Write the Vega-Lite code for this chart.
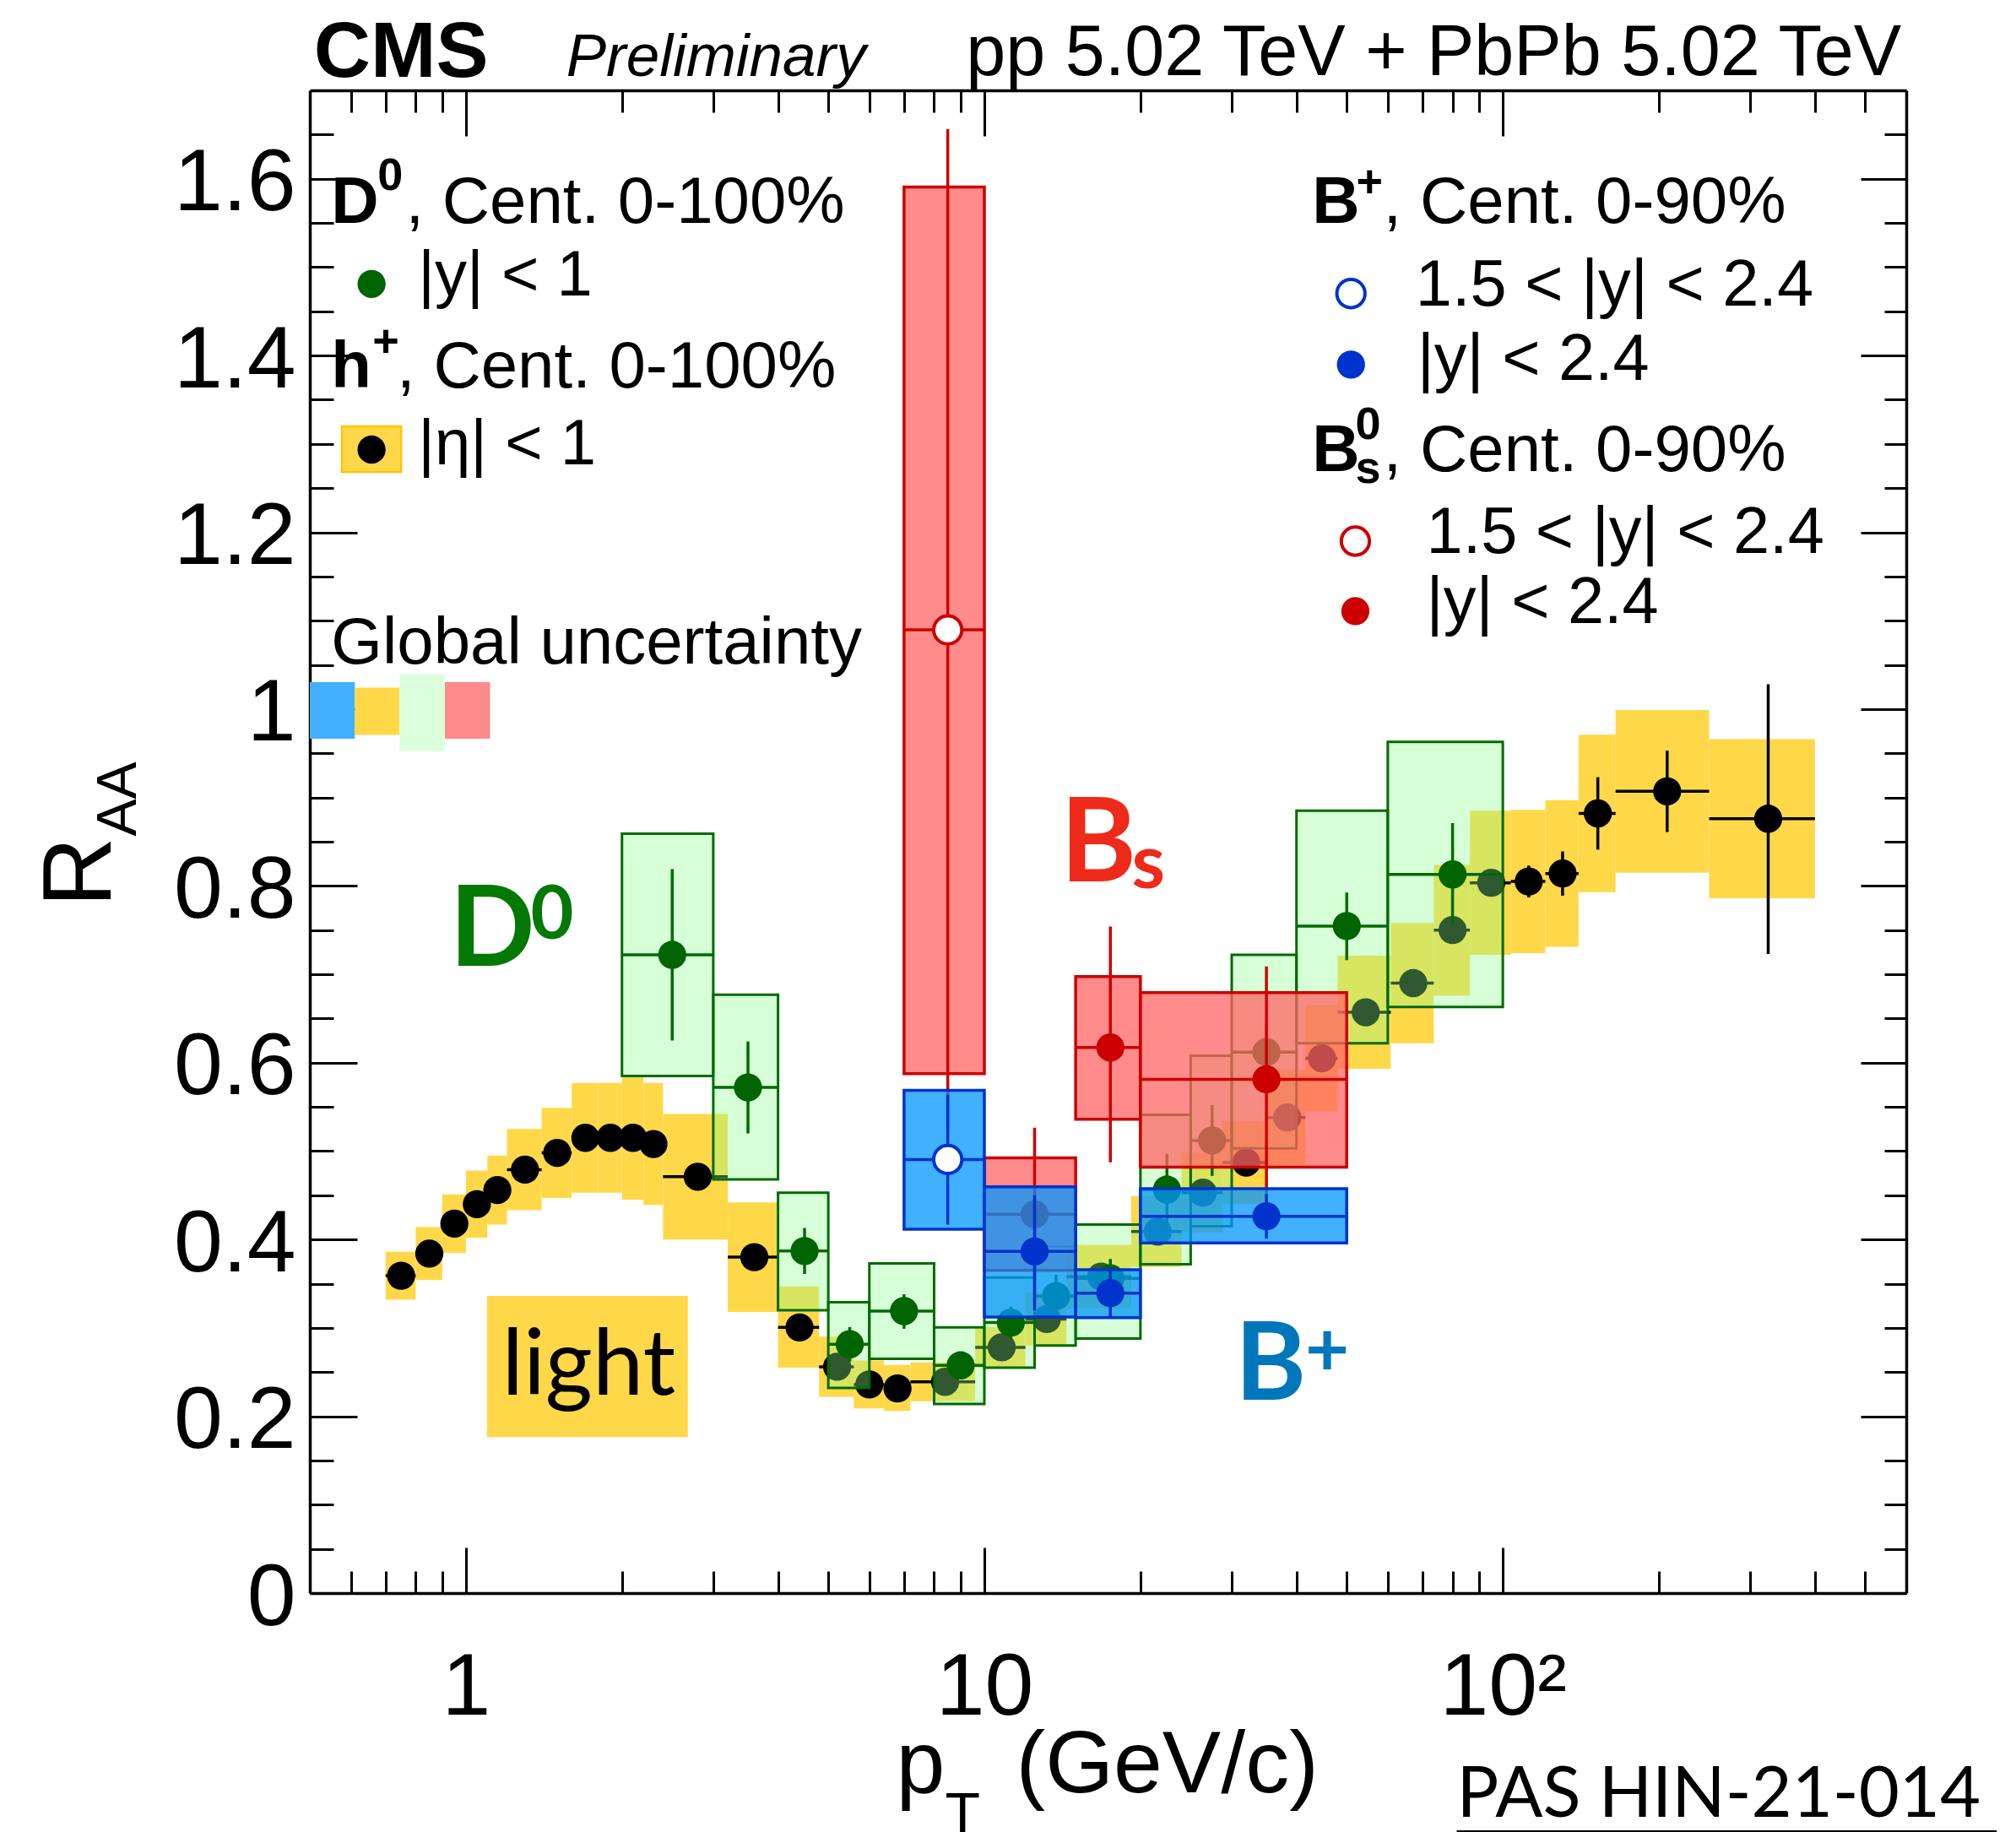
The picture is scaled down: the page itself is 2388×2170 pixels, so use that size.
{
  "$schema": "https://vega.github.io/schema/vega-lite/v6.json",
  "width": 1891,
  "height": 1780,
  "autosize": {"type": "none"},
  "padding": {"left": 367, "top": 107, "right": 130, "bottom": 283},
  "background": "white",
  "config": {"view": {"stroke": null}, "text": {"font": "Liberation Sans"}},
  "datasets": {
    "globalUnc": [
      {"species": "B+", "ptLo": 0.5, "ptHi": 0.6106, "systLo": 0.9666, "systHi": 1.0305},
      {"species": "h+", "ptLo": 0.6106, "ptHi": 0.745, "systLo": 0.9709, "systHi": 1.0244},
      {"species": "D0", "ptLo": 0.745, "ptHi": 0.911, "systLo": 0.9525, "systHi": 1.0396},
      {"species": "Bs", "ptLo": 0.911, "ptHi": 1.113, "systLo": 0.9666, "systHi": 1.0305}
    ],
    "hadron": [
      {"pt": 0.75, "ptLo": 0.7, "ptHi": 0.8, "raa": 0.359, "statLo": 0.356, "statHi": 0.362, "systLo": 0.332, "systHi": 0.386},
      {"pt": 0.85, "ptLo": 0.8, "ptHi": 0.9, "raa": 0.384, "statLo": 0.381, "statHi": 0.387, "systLo": 0.354, "systHi": 0.414},
      {"pt": 0.95, "ptLo": 0.9, "ptHi": 1.0, "raa": 0.418, "statLo": 0.415, "statHi": 0.421, "systLo": 0.385, "systHi": 0.451},
      {"pt": 1.05, "ptLo": 1.0, "ptHi": 1.1, "raa": 0.44, "statLo": 0.437, "statHi": 0.443, "systLo": 0.402, "systHi": 0.478},
      {"pt": 1.15, "ptLo": 1.1, "ptHi": 1.2, "raa": 0.456, "statLo": 0.453, "statHi": 0.459, "systLo": 0.417, "systHi": 0.495},
      {"pt": 1.3, "ptLo": 1.2, "ptHi": 1.4, "raa": 0.479, "statLo": 0.476, "statHi": 0.482, "systLo": 0.433, "systHi": 0.525},
      {"pt": 1.5, "ptLo": 1.4, "ptHi": 1.6, "raa": 0.498, "statLo": 0.495, "statHi": 0.501, "systLo": 0.447, "systHi": 0.549},
      {"pt": 1.7, "ptLo": 1.6, "ptHi": 1.8, "raa": 0.515, "statLo": 0.512, "statHi": 0.518, "systLo": 0.453, "systHi": 0.577},
      {"pt": 1.9, "ptLo": 1.8, "ptHi": 2.0, "raa": 0.515, "statLo": 0.512, "statHi": 0.518, "systLo": 0.453, "systHi": 0.577},
      {"pt": 2.1, "ptLo": 2.0, "ptHi": 2.2, "raa": 0.515, "statLo": 0.512, "statHi": 0.518, "systLo": 0.445, "systHi": 0.585},
      {"pt": 2.3, "ptLo": 2.2, "ptHi": 2.4, "raa": 0.508, "statLo": 0.505, "statHi": 0.511, "systLo": 0.439, "systHi": 0.577},
      {"pt": 2.8, "ptLo": 2.4, "ptHi": 3.2, "raa": 0.471, "statLo": 0.468, "statHi": 0.474, "systLo": 0.4, "systHi": 0.542},
      {"pt": 3.6, "ptLo": 3.2, "ptHi": 4.0, "raa": 0.38, "statLo": 0.377, "statHi": 0.383, "systLo": 0.318, "systHi": 0.442},
      {"pt": 4.4, "ptLo": 4.0, "ptHi": 4.8, "raa": 0.3005, "statLo": 0.297, "statHi": 0.304, "systLo": 0.255, "systHi": 0.347},
      {"pt": 5.2, "ptLo": 4.8, "ptHi": 5.6, "raa": 0.256, "statLo": 0.253, "statHi": 0.259, "systLo": 0.222, "systHi": 0.29},
      {"pt": 6.0, "ptLo": 5.6, "ptHi": 6.4, "raa": 0.236, "statLo": 0.233, "statHi": 0.239, "systLo": 0.209, "systHi": 0.263},
      {"pt": 6.8, "ptLo": 6.4, "ptHi": 7.2, "raa": 0.2315, "statLo": 0.228, "statHi": 0.235, "systLo": 0.206, "systHi": 0.258},
      {"pt": 8.4, "ptLo": 7.2, "ptHi": 9.6, "raa": 0.239, "statLo": 0.236, "statHi": 0.242, "systLo": 0.217, "systHi": 0.261},
      {"pt": 10.8, "ptLo": 9.6, "ptHi": 12, "raa": 0.278, "statLo": 0.275, "statHi": 0.281, "systLo": 0.255, "systHi": 0.301},
      {"pt": 13.2, "ptLo": 12, "ptHi": 14.4, "raa": 0.31, "statLo": 0.306, "statHi": 0.314, "systLo": 0.28, "systHi": 0.34},
      {"pt": 16.8, "ptLo": 14.4, "ptHi": 19.2, "raa": 0.358, "statLo": 0.354, "statHi": 0.362, "systLo": 0.322, "systHi": 0.394},
      {"pt": 21.6, "ptLo": 19.2, "ptHi": 24, "raa": 0.409, "statLo": 0.404, "statHi": 0.414, "systLo": 0.369, "systHi": 0.449},
      {"pt": 26.4, "ptLo": 24, "ptHi": 28.8, "raa": 0.453, "statLo": 0.448, "statHi": 0.458, "systLo": 0.408, "systHi": 0.498},
      {"pt": 32, "ptLo": 28.8, "ptHi": 35.2, "raa": 0.487, "statLo": 0.481, "statHi": 0.493, "systLo": 0.44, "systHi": 0.534},
      {"pt": 38.4, "ptLo": 35.2, "ptHi": 41.6, "raa": 0.538, "statLo": 0.531, "statHi": 0.545, "systLo": 0.484, "systHi": 0.592},
      {"pt": 44.8, "ptLo": 41.6, "ptHi": 48, "raa": 0.605, "statLo": 0.597, "statHi": 0.613, "systLo": 0.545, "systHi": 0.665},
      {"pt": 54.4, "ptLo": 48, "ptHi": 60.8, "raa": 0.657, "statLo": 0.649, "statHi": 0.665, "systLo": 0.593, "systHi": 0.721},
      {"pt": 67.2, "ptLo": 60.8, "ptHi": 73.6, "raa": 0.69, "statLo": 0.68, "statHi": 0.7, "systLo": 0.622, "systHi": 0.758},
      {"pt": 80, "ptLo": 73.6, "ptHi": 86.4, "raa": 0.75, "statLo": 0.738, "statHi": 0.762, "systLo": 0.676, "systHi": 0.824},
      {"pt": 95, "ptLo": 86.4, "ptHi": 103.6, "raa": 0.8035, "statLo": 0.791, "statHi": 0.816, "systLo": 0.722, "systHi": 0.885},
      {"pt": 112.2, "ptLo": 103.6, "ptHi": 120.8, "raa": 0.805, "statLo": 0.787, "statHi": 0.823, "systLo": 0.724, "systHi": 0.886},
      {"pt": 130.4, "ptLo": 120.8, "ptHi": 140, "raa": 0.814, "statLo": 0.789, "statHi": 0.839, "systLo": 0.731, "systHi": 0.897},
      {"pt": 152.5, "ptLo": 140, "ptHi": 165, "raa": 0.882, "statLo": 0.841, "statHi": 0.923, "systLo": 0.793, "systHi": 0.971},
      {"pt": 207.5, "ptLo": 165, "ptHi": 250, "raa": 0.907, "statLo": 0.861, "statHi": 0.953, "systLo": 0.815, "systHi": 0.999},
      {"pt": 325, "ptLo": 250, "ptHi": 400, "raa": 0.876, "statLo": 0.723, "statHi": 1.028, "systLo": 0.786, "systHi": 0.966}
    ],
    "dmeson": [
      {"pt": 2.5, "ptLo": 2, "ptHi": 3, "raa": 0.722, "statLo": 0.625, "statHi": 0.819, "systLo": 0.585, "systHi": 0.859},
      {"pt": 3.5, "ptLo": 3, "ptHi": 4, "raa": 0.572, "statLo": 0.52, "statHi": 0.624, "systLo": 0.468, "systHi": 0.677},
      {"pt": 4.5, "ptLo": 4, "ptHi": 5, "raa": 0.387, "statLo": 0.361, "statHi": 0.413, "systLo": 0.32, "systHi": 0.453},
      {"pt": 5.5, "ptLo": 5, "ptHi": 6, "raa": 0.2815, "statLo": 0.262, "statHi": 0.301, "systLo": 0.232, "systHi": 0.329},
      {"pt": 7, "ptLo": 6, "ptHi": 8, "raa": 0.319, "statLo": 0.299, "statHi": 0.338, "systLo": 0.265, "systHi": 0.373},
      {"pt": 9, "ptLo": 8, "ptHi": 10, "raa": 0.2576, "statLo": 0.245, "statHi": 0.27, "systLo": 0.214, "systHi": 0.3005},
      {"pt": 11.25, "ptLo": 10, "ptHi": 12.5, "raa": 0.306, "statLo": 0.288, "statHi": 0.324, "systLo": 0.255, "systHi": 0.357},
      {"pt": 13.75, "ptLo": 12.5, "ptHi": 15, "raa": 0.336, "statLo": 0.312, "statHi": 0.36, "systLo": 0.28, "systHi": 0.392},
      {"pt": 17.5, "ptLo": 15, "ptHi": 20, "raa": 0.356, "statLo": 0.334, "statHi": 0.378, "systLo": 0.288, "systHi": 0.417},
      {"pt": 22.5, "ptLo": 20, "ptHi": 25, "raa": 0.4565, "statLo": 0.416, "statHi": 0.497, "systLo": 0.372, "systHi": 0.541},
      {"pt": 27.5, "ptLo": 25, "ptHi": 30, "raa": 0.512, "statLo": 0.472, "statHi": 0.552, "systLo": 0.415, "systHi": 0.608},
      {"pt": 35, "ptLo": 30, "ptHi": 40, "raa": 0.612, "statLo": 0.58, "statHi": 0.645, "systLo": 0.503, "systHi": 0.722},
      {"pt": 50, "ptLo": 40, "ptHi": 60, "raa": 0.7546, "statLo": 0.716, "statHi": 0.7925, "systLo": 0.622, "systHi": 0.885},
      {"pt": 80, "ptLo": 60, "ptHi": 100, "raa": 0.813, "statLo": 0.756, "statHi": 0.871, "systLo": 0.663, "systHi": 0.963}
    ],
    "bplus": [
      {"rap": "fwd", "pt": 8.5, "ptLo": 7, "ptHi": 10, "raa": 0.4905, "statLo": 0.417, "statHi": 0.564, "systLo": 0.4116, "systHi": 0.5687},
      {"rap": "all", "pt": 12.5, "ptLo": 10, "ptHi": 15, "raa": 0.3865, "statLo": 0.32, "statHi": 0.45, "systLo": 0.3124, "systHi": 0.4597},
      {"rap": "all", "pt": 17.5, "ptLo": 15, "ptHi": 20, "raa": 0.3394, "statLo": 0.313, "statHi": 0.366, "systLo": 0.3117, "systHi": 0.3658},
      {"rap": "all", "pt": 35, "ptLo": 20, "ptHi": 50, "raa": 0.4263, "statLo": 0.401, "statHi": 0.452, "systLo": 0.396, "systHi": 0.4575}
    ],
    "bs": [
      {"rap": "fwd", "pt": 8.5, "ptLo": 7, "ptHi": 10, "raa": 1.0896, "statLo": 0.5236, "statHi": 1.656, "systLo": 0.5876, "systHi": 1.5907},
      {"rap": "all", "pt": 12.5, "ptLo": 10, "ptHi": 15, "raa": 0.4285, "statLo": 0.33, "statHi": 0.5265, "systLo": 0.365, "systHi": 0.4924},
      {"rap": "all", "pt": 17.5, "ptLo": 15, "ptHi": 20, "raa": 0.6172, "statLo": 0.4873, "statHi": 0.754, "systLo": 0.536, "systHi": 0.6974},
      {"rap": "all", "pt": 35, "ptLo": 20, "ptHi": 50, "raa": 0.5812, "statLo": 0.453, "statHi": 0.709, "systLo": 0.4819, "systHi": 0.6792}
    ]
  },
  "resolve": {
    "axis": {"x": "independent", "y": "independent"},
    "scale": {"fill": "independent", "stroke": "independent"}
  },
  "layer": [
    {
      "data": {"name": "globalUnc"},
      "mark": {"type": "rect"},
      "encoding": {
        "x": {"field": "ptLo", "type": "quantitative", "scale": {"type": "log", "domain": [0.5, 600], "nice": false},
          "axis": {"orient": "bottom", "values": [1, 10, 100], "labels": false, "ticks": true, "tickSize": -54, "tickWidth": 3, "tickColor": "black", "domain": true, "domainWidth": 3.5, "domainColor": "black", "grid": false, "title": null}},
        "x2": {"field": "ptHi"},
        "y": {"field": "systLo", "type": "quantitative", "scale": {"domain": [0, 1.7], "nice": false, "zero": false},
          "axis": {"orient": "left", "values": [0, 0.2, 0.4, 0.6, 0.8, 1, 1.2, 1.4, 1.6], "labels": false, "ticks": true, "tickSize": -56, "tickWidth": 3, "tickColor": "black", "domain": true, "domainWidth": 3.5, "domainColor": "black", "grid": false, "title": null}},
        "y2": {"field": "systHi"},
        "fill": {"field": "species", "type": "nominal", "legend": null,
          "scale": {"domain": ["B+", "h+", "D0", "Bs"], "range": ["#41B0FF", "#FFD84A", "#DAFFDA", "#FF8A8A"]}}
      }
    },
    {
      "data": {"values": [{"ptLo": 1.098, "ptHi": 2.68, "systLo": 0.1764, "systHi": 0.3362}]},
      "mark": {"type": "rect", "fill": "#FFD84A"},
      "encoding": {
        "x": {"field": "ptLo", "type": "quantitative", "scale": {"type": "log", "domain": [0.5, 600], "nice": false},
          "axis": {"orient": "bottom", "values": [0.6, 0.7, 0.8, 0.9, 2, 3, 4, 5, 6, 7, 8, 9, 20, 30, 40, 50, 60, 70, 80, 90, 200, 300, 400, 500], "labels": false, "ticks": true, "tickSize": -26, "tickWidth": 3, "tickColor": "black", "domain": false, "grid": false, "title": null}},
        "x2": {"field": "ptHi"},
        "y": {"field": "systLo", "type": "quantitative", "scale": {"domain": [0, 1.7], "nice": false, "zero": false},
          "axis": {"orient": "left", "values": [0.05, 0.1, 0.15, 0.25, 0.3, 0.35, 0.45, 0.5, 0.55, 0.65, 0.7, 0.75, 0.85, 0.9, 0.95, 1.05, 1.1, 1.15, 1.25, 1.3, 1.35, 1.45, 1.5, 1.55, 1.65], "labels": false, "ticks": true, "tickSize": -28, "tickWidth": 3, "tickColor": "black", "domain": false, "grid": false, "title": null}},
        "y2": {"field": "systHi"}
      }
    },
    {
      "data": {"name": "hadron"},
      "mark": {"type": "rect", "fill": "#FFD84A"},
      "encoding": {
        "x": {"field": "ptLo", "type": "quantitative", "scale": {"type": "log", "domain": [0.5, 600], "nice": false},
          "axis": {"orient": "top", "values": [1, 10, 100], "labels": false, "ticks": true, "tickSize": -54, "tickWidth": 3, "tickColor": "black", "domain": true, "domainWidth": 3.5, "domainColor": "black", "grid": false, "title": null}},
        "x2": {"field": "ptHi"},
        "y": {"field": "systLo", "type": "quantitative", "scale": {"domain": [0, 1.7], "nice": false, "zero": false},
          "axis": {"orient": "right", "values": [0, 0.2, 0.4, 0.6, 0.8, 1, 1.2, 1.4, 1.6], "labels": false, "ticks": true, "tickSize": -54, "tickWidth": 3, "tickColor": "black", "domain": true, "domainWidth": 3.5, "domainColor": "black", "grid": false, "title": null}},
        "y2": {"field": "systHi"}
      }
    },
    {
      "data": {"name": "hadron"},
      "mark": {"type": "rule", "color": "black", "strokeWidth": 3.5},
      "encoding": {
        "x": {"field": "pt", "type": "quantitative", "scale": {"type": "log", "domain": [0.5, 600], "nice": false},
          "axis": {"orient": "top", "values": [0.6, 0.7, 0.8, 0.9, 2, 3, 4, 5, 6, 7, 8, 9, 20, 30, 40, 50, 60, 70, 80, 90, 200, 300, 400, 500], "labels": false, "ticks": true, "tickSize": -26, "tickWidth": 3, "tickColor": "black", "domain": false, "grid": false, "title": null}},
        "y": {"field": "statLo", "type": "quantitative", "scale": {"domain": [0, 1.7], "nice": false, "zero": false},
          "axis": {"orient": "right", "values": [0.05, 0.1, 0.15, 0.25, 0.3, 0.35, 0.45, 0.5, 0.55, 0.65, 0.7, 0.75, 0.85, 0.9, 0.95, 1.05, 1.1, 1.15, 1.25, 1.3, 1.35, 1.45, 1.5, 1.55, 1.65], "labels": false, "ticks": true, "tickSize": -26, "tickWidth": 3, "tickColor": "black", "domain": false, "grid": false, "title": null}},
        "y2": {"field": "statHi"}
      }
    },
    {
      "data": {"name": "hadron"},
      "mark": {"type": "rule", "color": "black", "strokeWidth": 3.5},
      "encoding": {
        "x": {"field": "ptLo", "type": "quantitative", "scale": {"type": "log", "domain": [0.5, 600], "nice": false},
          "axis": {"orient": "bottom", "values": [1, 10, 100], "ticks": false, "domain": false, "grid": false,
            "labelExpr": "datum.value >= 100 ? '10²' : datum.value >= 10 ? '10' : '1'",
            "labelFont": "Liberation Sans", "labelFontSize": 104, "labelColor": "black", "labelPadding": 61, "labelFlush": false, "labelOverlap": false, "labelBound": false,
            "title": "p", "titleFont": "Liberation Sans", "titleFontSize": 104, "titleFontWeight": "normal", "titleColor": "black", "titleAngle": 0, "titleAlign": "left", "titleBaseline": "alphabetic", "titleX": 694, "titleY": 235}},
        "x2": {"field": "ptHi"},
        "y": {"field": "raa", "type": "quantitative", "scale": {"domain": [0, 1.7], "nice": false, "zero": false},
          "axis": {"orient": "left", "values": [0, 0.2, 0.4, 0.6, 0.8, 1, 1.2, 1.4, 1.6], "format": "~g", "ticks": false, "domain": false, "grid": false,
            "labelFont": "Liberation Sans", "labelFontSize": 104, "labelColor": "black", "labelPadding": 17, "labelAlign": "right", "labelBaseline": "middle", "labelOffset": 6, "labelFlush": false, "labelOverlap": false, "labelBound": false,
            "title": "R", "titleFont": "Liberation Sans", "titleFontSize": 115, "titleFontWeight": "normal", "titleColor": "black", "titleAngle": 270, "titleAlign": "left", "titleBaseline": "alphabetic", "titleX": -237, "titleY": 967}}
      }
    },
    {
      "data": {"name": "hadron"},
      "mark": {"type": "point", "shape": "circle", "filled": true, "color": "black", "size": 1110, "opacity": 1},
      "encoding": {
        "x": {"field": "pt", "type": "quantitative", "scale": {"type": "log", "domain": [0.5, 600], "nice": false},
          "axis": {"orient": "bottom", "ticks": false, "labels": false, "domain": false, "grid": false,
            "title": "T", "titleFont": "Liberation Sans", "titleFontSize": 68, "titleFontWeight": "normal", "titleColor": "black", "titleAngle": 0, "titleAlign": "left", "titleBaseline": "alphabetic", "titleX": 752, "titleY": 283}},
        "y": {"field": "raa", "type": "quantitative", "scale": {"domain": [0, 1.7], "nice": false, "zero": false},
          "axis": {"orient": "left", "ticks": false, "labels": false, "domain": false, "grid": false,
            "title": "AA", "titleFont": "Liberation Sans", "titleFontSize": 66, "titleFontWeight": "normal", "titleColor": "black", "titleAngle": 270, "titleAlign": "left", "titleBaseline": "alphabetic", "titleX": -207, "titleY": 883}}
      }
    },
    {
      "data": {"name": "dmeson"},
      "mark": {"type": "rect", "fill": "#8CFF8C", "fillOpacity": 0.35, "stroke": "#006B00", "strokeWidth": 3},
      "encoding": {
        "x": {"field": "ptLo", "type": "quantitative", "scale": {"type": "log", "domain": [0.5, 600], "nice": false},
          "axis": {"orient": "bottom", "ticks": false, "labels": false, "domain": false, "grid": false,
            "title": "(GeV/c)", "titleFont": "Liberation Sans", "titleFontSize": 104, "titleFontWeight": "normal", "titleColor": "black", "titleAngle": 0, "titleAlign": "left", "titleBaseline": "alphabetic", "titleX": 836, "titleY": 235}},
        "x2": {"field": "ptHi"},
        "y": {"field": "systLo", "type": "quantitative", "scale": {"domain": [0, 1.7], "nice": false, "zero": false}, "axis": null},
        "y2": {"field": "systHi"}
      }
    },
    {
      "data": {"name": "dmeson"},
      "mark": {"type": "rule", "color": "#006B00", "strokeWidth": 3.5},
      "encoding": {
        "x": {"field": "pt", "type": "quantitative", "scale": {"type": "log", "domain": [0.5, 600], "nice": false}, "axis": null},
        "y": {"field": "statLo", "type": "quantitative", "scale": {"domain": [0, 1.7], "nice": false, "zero": false}, "axis": null},
        "y2": {"field": "statHi"}
      }
    },
    {
      "data": {"name": "dmeson"},
      "mark": {"type": "rule", "color": "#006B00", "strokeWidth": 3.5},
      "encoding": {
        "x": {"field": "ptLo", "type": "quantitative", "scale": {"type": "log", "domain": [0.5, 600], "nice": false}, "axis": null},
        "x2": {"field": "ptHi"},
        "y": {"field": "raa", "type": "quantitative", "scale": {"domain": [0, 1.7], "nice": false, "zero": false}, "axis": null}
      }
    },
    {
      "data": {"name": "dmeson"},
      "mark": {"type": "point", "shape": "circle", "filled": true, "color": "#006400", "size": 1110, "opacity": 1},
      "encoding": {
        "x": {"field": "pt", "type": "quantitative", "scale": {"type": "log", "domain": [0.5, 600], "nice": false}, "axis": null},
        "y": {"field": "raa", "type": "quantitative", "scale": {"domain": [0, 1.7], "nice": false, "zero": false}, "axis": null}
      }
    },
    {
      "data": {"name": "bs"},
      "mark": {"type": "rect", "fill": "#FF6464", "fillOpacity": 0.75, "stroke": "#CC0000", "strokeWidth": 3.5},
      "encoding": {
        "x": {"field": "ptLo", "type": "quantitative", "scale": {"type": "log", "domain": [0.5, 600], "nice": false}, "axis": null},
        "x2": {"field": "ptHi"},
        "y": {"field": "systLo", "type": "quantitative", "scale": {"domain": [0, 1.7], "nice": false, "zero": false}, "axis": null},
        "y2": {"field": "systHi"}
      }
    },
    {
      "data": {"name": "bs"},
      "mark": {"type": "rule", "color": "#CC0000", "strokeWidth": 3.5},
      "encoding": {
        "x": {"field": "pt", "type": "quantitative", "scale": {"type": "log", "domain": [0.5, 600], "nice": false}, "axis": null},
        "y": {"field": "statLo", "type": "quantitative", "scale": {"domain": [0, 1.7], "nice": false, "zero": false}, "axis": null},
        "y2": {"field": "statHi"}
      }
    },
    {
      "data": {"name": "bs"},
      "mark": {"type": "rule", "color": "#CC0000", "strokeWidth": 3.5},
      "encoding": {
        "x": {"field": "ptLo", "type": "quantitative", "scale": {"type": "log", "domain": [0.5, 600], "nice": false}, "axis": null},
        "x2": {"field": "ptHi"},
        "y": {"field": "raa", "type": "quantitative", "scale": {"domain": [0, 1.7], "nice": false, "zero": false}, "axis": null}
      }
    },
    {
      "data": {"name": "bs"},
      "transform": [{"filter": "datum.rap == 'all'"}],
      "mark": {"type": "point", "shape": "circle", "filled": true, "color": "#CC0000", "size": 1110, "opacity": 1},
      "encoding": {
        "x": {"field": "pt", "type": "quantitative", "scale": {"type": "log", "domain": [0.5, 600], "nice": false}, "axis": null},
        "y": {"field": "raa", "type": "quantitative", "scale": {"domain": [0, 1.7], "nice": false, "zero": false}, "axis": null}
      }
    },
    {
      "data": {"name": "bs"},
      "transform": [{"filter": "datum.rap == 'fwd'"}],
      "mark": {"type": "point", "shape": "circle", "filled": true, "fill": "white", "stroke": "#CC0000", "strokeWidth": 4, "size": 1110, "opacity": 1},
      "encoding": {
        "x": {"field": "pt", "type": "quantitative", "scale": {"type": "log", "domain": [0.5, 600], "nice": false}, "axis": null},
        "y": {"field": "raa", "type": "quantitative", "scale": {"domain": [0, 1.7], "nice": false, "zero": false}, "axis": null}
      }
    },
    {
      "data": {"name": "bplus"},
      "mark": {"type": "rect", "fill": "#0095FF", "fillOpacity": 0.75, "stroke": "#0033CC", "strokeWidth": 3.5},
      "encoding": {
        "x": {"field": "ptLo", "type": "quantitative", "scale": {"type": "log", "domain": [0.5, 600], "nice": false}, "axis": null},
        "x2": {"field": "ptHi"},
        "y": {"field": "systLo", "type": "quantitative", "scale": {"domain": [0, 1.7], "nice": false, "zero": false}, "axis": null},
        "y2": {"field": "systHi"}
      }
    },
    {
      "data": {"name": "bplus"},
      "mark": {"type": "rule", "color": "#0033CC", "strokeWidth": 3.5},
      "encoding": {
        "x": {"field": "pt", "type": "quantitative", "scale": {"type": "log", "domain": [0.5, 600], "nice": false}, "axis": null},
        "y": {"field": "statLo", "type": "quantitative", "scale": {"domain": [0, 1.7], "nice": false, "zero": false}, "axis": null},
        "y2": {"field": "statHi"}
      }
    },
    {
      "data": {"name": "bplus"},
      "mark": {"type": "rule", "color": "#0033CC", "strokeWidth": 3.5},
      "encoding": {
        "x": {"field": "ptLo", "type": "quantitative", "scale": {"type": "log", "domain": [0.5, 600], "nice": false}, "axis": null},
        "x2": {"field": "ptHi"},
        "y": {"field": "raa", "type": "quantitative", "scale": {"domain": [0, 1.7], "nice": false, "zero": false}, "axis": null}
      }
    },
    {
      "data": {"name": "bplus"},
      "transform": [{"filter": "datum.rap == 'all'"}],
      "mark": {"type": "point", "shape": "circle", "filled": true, "color": "#0033CC", "size": 1110, "opacity": 1},
      "encoding": {
        "x": {"field": "pt", "type": "quantitative", "scale": {"type": "log", "domain": [0.5, 600], "nice": false}, "axis": null},
        "y": {"field": "raa", "type": "quantitative", "scale": {"domain": [0, 1.7], "nice": false, "zero": false}, "axis": null}
      }
    },
    {
      "data": {"name": "bplus"},
      "transform": [{"filter": "datum.rap == 'fwd'"}],
      "mark": {"type": "point", "shape": "circle", "filled": true, "fill": "white", "stroke": "#0033CC", "strokeWidth": 4, "size": 1110, "opacity": 1},
      "encoding": {
        "x": {"field": "pt", "type": "quantitative", "scale": {"type": "log", "domain": [0.5, 600], "nice": false}, "axis": null},
        "y": {"field": "raa", "type": "quantitative", "scale": {"domain": [0, 1.7], "nice": false, "zero": false}, "axis": null}
      }
    },
    {
      "mark": {"type": "rule", "color": "black", "strokeWidth": 4.5, "strokeDash": [13, 12]},
      "encoding": {
        "y": {"datum": 1, "type": "quantitative", "scale": {"domain": [0, 1.7], "nice": false, "zero": false}, "axis": null}
      }
    },
    {
      "data": {"values": [{"ptLo": 0.5767, "ptHi": 0.75, "systLo": 1.2683, "systHi": 1.3198}]},
      "mark": {"type": "rect", "fill": "#FFD84A", "stroke": "#FFC400", "strokeWidth": 2.5},
      "encoding": {
        "x": {"field": "ptLo", "type": "quantitative", "scale": {"type": "log", "domain": [0.5, 600], "nice": false}, "axis": null},
        "x2": {"field": "ptHi"},
        "y": {"field": "systLo", "type": "quantitative", "scale": {"domain": [0, 1.7], "nice": false, "zero": false}, "axis": null},
        "y2": {"field": "systHi"}
      }
    },
    {
      "data": {"values": [
        {"species": "D0", "pt": 0.6577, "raa": 1.481},
        {"species": "h+", "pt": 0.6577, "raa": 1.2936},
        {"species": "B+", "pt": 50.94, "raa": 1.3897},
        {"species": "Bs", "pt": 51.95, "raa": 1.1108}
      ]},
      "mark": {"type": "point", "shape": "circle", "filled": true, "size": 1110, "opacity": 1},
      "encoding": {
        "x": {"field": "pt", "type": "quantitative", "scale": {"type": "log", "domain": [0.5, 600], "nice": false}, "axis": null},
        "y": {"field": "raa", "type": "quantitative", "scale": {"domain": [0, 1.7], "nice": false, "zero": false}, "axis": null},
        "fill": {"field": "species", "type": "nominal", "legend": null,
          "scale": {"domain": ["D0", "h+", "B+", "Bs"], "range": ["#006400", "#000000", "#0033CC", "#CC0000"]}}
      }
    },
    {
      "data": {"values": [
        {"species": "B+", "pt": 50.94, "raa": 1.4701},
        {"species": "Bs", "pt": 51.95, "raa": 1.19}
      ]},
      "mark": {"type": "point", "shape": "circle", "filled": true, "fill": "white", "strokeWidth": 4, "size": 1110, "opacity": 1},
      "encoding": {
        "x": {"field": "pt", "type": "quantitative", "scale": {"type": "log", "domain": [0.5, 600], "nice": false}, "axis": null},
        "y": {"field": "raa", "type": "quantitative", "scale": {"domain": [0, 1.7], "nice": false, "zero": false}, "axis": null},
        "stroke": {"field": "species", "type": "nominal", "legend": null,
          "scale": {"domain": ["B+", "Bs"], "range": ["#0033CC", "#CC0000"]}}
      }
    },
    {
      "data": {"values": [
        {"pt": 0.5497, "raa": 1.5499, "label": "D"},
        {"pt": 0.5497, "raa": 1.3642, "label": "h"},
        {"pt": 42.88, "raa": 1.5499, "label": "B"},
        {"pt": 42.88, "raa": 1.2692, "label": "B"}
      ]},
      "mark": {"type": "text", "font": "Liberation Sans", "fontWeight": "bold", "fontSize": 78, "align": "left", "baseline": "alphabetic", "color": "black"},
      "encoding": {
        "x": {"field": "pt", "type": "quantitative", "scale": {"type": "log", "domain": [0.5, 600], "nice": false}, "axis": null},
        "y": {"field": "raa", "type": "quantitative", "scale": {"domain": [0, 1.7], "nice": false, "zero": false}, "axis": null},
        "text": {"field": "label"}
      }
    },
    {
      "data": {"values": [
        {"pt": 0.6758, "raa": 1.5876, "label": "0"},
        {"pt": 0.6607, "raa": 1.3994, "label": "+"},
        {"pt": 52.17, "raa": 1.5797, "label": "+"},
        {"pt": 51.97, "raa": 1.3057, "label": "0"},
        {"pt": 51.97, "raa": 1.2558, "label": "s"}
      ]},
      "mark": {"type": "text", "font": "Liberation Sans", "fontWeight": "bold", "fontSize": 54, "align": "left", "baseline": "alphabetic", "color": "black"},
      "encoding": {
        "x": {"field": "pt", "type": "quantitative", "scale": {"type": "log", "domain": [0.5, 600], "nice": false}, "axis": null},
        "y": {"field": "raa", "type": "quantitative", "scale": {"domain": [0, 1.7], "nice": false, "zero": false}, "axis": null},
        "text": {"field": "label"}
      }
    },
    {
      "data": {"values": [
        {"pt": 0.765, "raa": 1.5499, "label": ", Cent. 0-100%"},
        {"pt": 0.7358, "raa": 1.3642, "label": ", Cent. 0-100%"},
        {"pt": 58.83, "raa": 1.5499, "label": ", Cent. 0-90%"},
        {"pt": 58.83, "raa": 1.2692, "label": ", Cent. 0-90%"},
        {"pt": 0.5497, "raa": 1.0518, "label": "Global uncertainty"}
      ]},
      "mark": {"type": "text", "font": "Liberation Sans", "fontSize": 78, "align": "left", "baseline": "alphabetic", "color": "black"},
      "encoding": {
        "x": {"field": "pt", "type": "quantitative", "scale": {"type": "log", "domain": [0.5, 600], "nice": false}, "axis": null},
        "y": {"field": "raa", "type": "quantitative", "scale": {"domain": [0, 1.7], "nice": false, "zero": false}, "axis": null},
        "text": {"field": "label"}
      }
    },
    {
      "data": {"values": [
        {"pt": 0.809, "raa": 1.4678, "label": "|y| < 1"},
        {"pt": 0.809, "raa": 1.2771, "label": "|η| < 1"}
      ]},
      "mark": {"type": "text", "font": "Liberation Sans", "fontSize": 76, "align": "left", "baseline": "alphabetic", "color": "black"},
      "encoding": {
        "x": {"field": "pt", "type": "quantitative", "scale": {"type": "log", "domain": [0.5, 600], "nice": false}, "axis": null},
        "y": {"field": "raa", "type": "quantitative", "scale": {"domain": [0, 1.7], "nice": false, "zero": false}, "axis": null},
        "text": {"field": "label"}
      }
    },
    {
      "data": {"values": [
        {"pt": 67.9, "raa": 1.4567, "label": "1.5 < |y| < 2.4"},
        {"pt": 68.35, "raa": 1.3727, "label": "|y| < 2.4"},
        {"pt": 71.22, "raa": 1.1766, "label": "1.5 < |y| < 2.4"},
        {"pt": 71.22, "raa": 1.0975, "label": "|y| < 2.4"}
      ]},
      "mark": {"type": "text", "font": "Liberation Sans", "fontSize": 77.5, "align": "left", "baseline": "alphabetic", "color": "black"},
      "encoding": {
        "x": {"field": "pt", "type": "quantitative", "scale": {"type": "log", "domain": [0.5, 600], "nice": false}, "axis": null},
        "y": {"field": "raa", "type": "quantitative", "scale": {"domain": [0, 1.7], "nice": false, "zero": false}, "axis": null},
        "text": {"field": "label"}
      }
    },
    {
      "data": {"values": [{"pt": 0.93, "raa": 0.7093, "label": "D"}]},
      "mark": {"type": "text", "font": "Lato", "fontWeight": "bold", "fontSize": 133, "align": "left", "baseline": "alphabetic", "color": "#037903"},
      "encoding": {
        "x": {"field": "pt", "type": "quantitative", "scale": {"type": "log", "domain": [0.5, 600], "nice": false}, "axis": null},
        "y": {"field": "raa", "type": "quantitative", "scale": {"domain": [0, 1.7], "nice": false, "zero": false}, "axis": null},
        "text": {"field": "label"}
      }
    },
    {
      "data": {"values": [{"pt": 1.333, "raa": 0.7398, "label": "0"}]},
      "mark": {"type": "text", "font": "Lato", "fontWeight": "bold", "fontSize": 88, "align": "left", "baseline": "alphabetic", "color": "#037903"},
      "encoding": {
        "x": {"field": "pt", "type": "quantitative", "scale": {"type": "log", "domain": [0.5, 600], "nice": false}, "axis": null},
        "y": {"field": "raa", "type": "quantitative", "scale": {"domain": [0, 1.7], "nice": false, "zero": false}, "axis": null},
        "text": {"field": "label"}
      }
    },
    {
      "data": {"values": [{"pt": 14.02, "raa": 0.8053, "label": "B"}]},
      "mark": {"type": "text", "font": "Lato", "fontWeight": "bold", "fontSize": 137, "align": "left", "baseline": "alphabetic", "color": "#EE2A1B"},
      "encoding": {
        "x": {"field": "pt", "type": "quantitative", "scale": {"type": "log", "domain": [0.5, 600], "nice": false}, "axis": null},
        "y": {"field": "raa", "type": "quantitative", "scale": {"domain": [0, 1.7], "nice": false, "zero": false}, "axis": null},
        "text": {"field": "label"}
      }
    },
    {
      "data": {"values": [{"pt": 19.23, "raa": 0.7976, "label": "s"}]},
      "mark": {"type": "text", "font": "Lato", "fontWeight": "bold", "fontSize": 90, "align": "left", "baseline": "alphabetic", "color": "#EE2A1B"},
      "encoding": {
        "x": {"field": "pt", "type": "quantitative", "scale": {"type": "log", "domain": [0.5, 600], "nice": false}, "axis": null},
        "y": {"field": "raa", "type": "quantitative", "scale": {"domain": [0, 1.7], "nice": false, "zero": false}, "axis": null},
        "text": {"field": "label"}
      }
    },
    {
      "data": {"values": [{"pt": 30.45, "raa": 0.2191, "label": "B"}]},
      "mark": {"type": "text", "font": "Lato", "fontWeight": "bold", "fontSize": 128, "align": "left", "baseline": "alphabetic", "color": "#0077BB"},
      "encoding": {
        "x": {"field": "pt", "type": "quantitative", "scale": {"type": "log", "domain": [0.5, 600], "nice": false}, "axis": null},
        "y": {"field": "raa", "type": "quantitative", "scale": {"domain": [0, 1.7], "nice": false, "zero": false}, "axis": null},
        "text": {"field": "label"}
      }
    },
    {
      "data": {"values": [{"pt": 41.56, "raa": 0.2458, "label": "+"}]},
      "mark": {"type": "text", "font": "Lato", "fontWeight": "bold", "fontSize": 90, "align": "left", "baseline": "alphabetic", "color": "#0077BB"},
      "encoding": {
        "x": {"field": "pt", "type": "quantitative", "scale": {"type": "log", "domain": [0.5, 600], "nice": false}, "axis": null},
        "y": {"field": "raa", "type": "quantitative", "scale": {"domain": [0, 1.7], "nice": false, "zero": false}, "axis": null},
        "text": {"field": "label"}
      }
    },
    {
      "data": {"values": [{"pt": 1.173, "raa": 0.2242, "label": "light"}]},
      "mark": {"type": "text", "font": "Lato", "fontSize": 108, "align": "left", "baseline": "alphabetic", "color": "black"},
      "encoding": {
        "x": {"field": "pt", "type": "quantitative", "scale": {"type": "log", "domain": [0.5, 600], "nice": false}, "axis": null},
        "y": {"field": "raa", "type": "quantitative", "scale": {"domain": [0, 1.7], "nice": false, "zero": false}, "axis": null},
        "text": {"field": "label"}
      }
    },
    {
      "data": {"values": [{"pt": 0.5092, "raa": 1.715, "label": "CMS"}]},
      "mark": {"type": "text", "font": "Liberation Sans", "fontWeight": "bold", "fontSize": 93, "align": "left", "baseline": "alphabetic", "color": "black"},
      "encoding": {
        "x": {"field": "pt", "type": "quantitative", "scale": {"type": "log", "domain": [0.5, 600], "nice": false}, "axis": null},
        "y": {"field": "raa", "type": "quantitative", "scale": {"domain": [0, 1.7], "nice": false, "zero": false}, "axis": null},
        "text": {"field": "label"}
      }
    },
    {
      "data": {"values": [{"pt": 1.561, "raa": 1.7167, "label": "Preliminary"}]},
      "mark": {"type": "text", "font": "Liberation Sans", "fontStyle": "italic", "fontSize": 71, "align": "left", "baseline": "alphabetic", "color": "black"},
      "encoding": {
        "x": {"field": "pt", "type": "quantitative", "scale": {"type": "log", "domain": [0.5, 600], "nice": false}, "axis": null},
        "y": {"field": "raa", "type": "quantitative", "scale": {"domain": [0, 1.7], "nice": false, "zero": false}, "axis": null},
        "text": {"field": "label"}
      }
    },
    {
      "data": {"values": [{"pt": 587.1, "raa": 1.7169, "label": "pp 5.02 TeV + PbPb 5.02 TeV"}]},
      "mark": {"type": "text", "font": "Liberation Sans", "fontSize": 84.5, "align": "right", "baseline": "alphabetic", "color": "black"},
      "encoding": {
        "x": {"field": "pt", "type": "quantitative", "scale": {"type": "log", "domain": [0.5, 600], "nice": false}, "axis": null},
        "y": {"field": "raa", "type": "quantitative", "scale": {"domain": [0, 1.7], "nice": false, "zero": false}, "axis": null},
        "text": {"field": "label"}
      }
    },
    {
      "data": {"values": [{"pt": 81.5, "raa": -0.2535, "label": "PAS HIN-21-014"}]},
      "mark": {"type": "text", "font": "Lato", "fontSize": 83, "align": "left", "baseline": "alphabetic", "color": "black"},
      "encoding": {
        "x": {"field": "pt", "type": "quantitative", "scale": {"type": "log", "domain": [0.5, 600], "nice": false}, "axis": null},
        "y": {"field": "raa", "type": "quantitative", "scale": {"domain": [0, 1.7], "nice": false, "zero": false}, "axis": null},
        "text": {"field": "label"}
      }
    },
    {
      "data": {"values": [{"ptLo": 81.5, "ptHi": 897, "raa": -0.2697}]},
      "mark": {"type": "rule", "color": "black", "strokeWidth": 3},
      "encoding": {
        "x": {"field": "ptLo", "type": "quantitative", "scale": {"type": "log", "domain": [0.5, 600], "nice": false}, "axis": null},
        "x2": {"field": "ptHi"},
        "y": {"field": "raa", "type": "quantitative", "scale": {"domain": [0, 1.7], "nice": false, "zero": false}, "axis": null}
      }
    }
  ]
}
